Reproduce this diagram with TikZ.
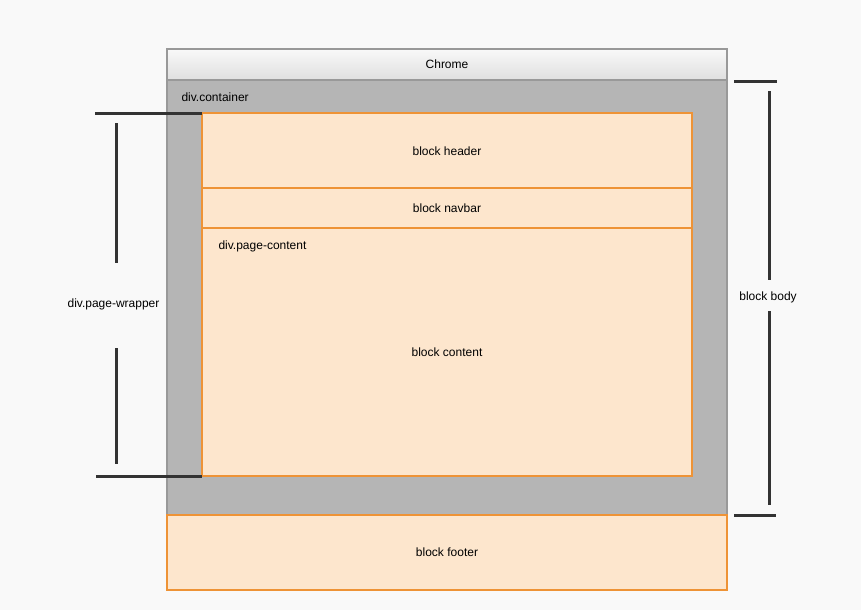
\documentclass[tikz,border=0pt]{standalone}
\usepackage{fontspec}
\setmainfont{Liberation Sans}
\usetikzlibrary{calc, positioning}
\definecolor{pagebg}{HTML}{F9F9F9}
\definecolor{wrapgray}{HTML}{B5B5B5}
\definecolor{edgegray}{HTML}{999999}
\definecolor{blockfill}{HTML}{FDE6CD}
\definecolor{blockedge}{HTML}{EE9336}
\definecolor{markline}{HTML}{333333}

\begin{document}
\begin{tikzpicture}[line cap=butt,line join=miter,x=1pt,y=-1pt, every node/.style={font=\fontsize{12}{14}\selectfont, text=black}]
\tikzset{
  blockbox/.style={line width=2.2pt, draw=blockedge, fill=blockfill},
  markbar/.style={line width=3pt, color=markline}
}
% Background
\fill [pagebg] (0,0) rectangle (861,610);
\useasboundingbox (0,0) rectangle (861,610);

% Container and chrome bar
\fill [wrapgray] (167,80) rectangle (727,515);
\shade [top color=gray!5, bottom color=gray!25] (167,49) rectangle (727,80);
\draw [line width=1.8pt, color=edgegray] (167,515) -- (167,49) -- (727,49) -- (727,515);
\draw [line width=1.8pt, color=edgegray] (167,80) -- (727,80);

% Blocks
\draw [blockbox] (167,515) rectangle (727,590);
\draw [blockbox] (202,113) rectangle (692,188);
\draw [blockbox] (202,188) rectangle (692,228);
\draw [blockbox] (202,228) rectangle (692,476);

% Labels
\node (chrome) at (447,64.5) {Chrome};
\node [anchor=west] (container) at (178,97) {div.container};
\node (header) at (447,151) {block header};
\node (navbar) at (447,208) {block navbar};
\node [anchor=west] (pagecontent) at (215,246.5) {div.page-content};
\node (content) at (447,352.5) {block content};
\node (footer) at (447,552.5) {block footer};
\node (wrapper) at (113.5,304) {div.page-wrapper};
\node (body) at (768,297) {block body};

% Left bracket
\coordinate (wtop) at (116,123);
\coordinate (wbot) at (116,464);
\draw [markbar] (95,113) -- (202,113);
\draw [markbar] (96,476) -- (202,476);
\draw [markbar] (wtop) -- (116,263);
\draw [markbar] (116,348) -- (wbot);

% Right bracket
\coordinate (btop) at (769,91);
\coordinate (bbot) at (769,505);
\draw [markbar] (734,81) -- (777,81);
\draw [markbar] (734,515) -- (776,515);
\draw [markbar] (btop) -- (769,280);
\draw [markbar] (769,311) -- (bbot);
\end{tikzpicture}
\end{document}
